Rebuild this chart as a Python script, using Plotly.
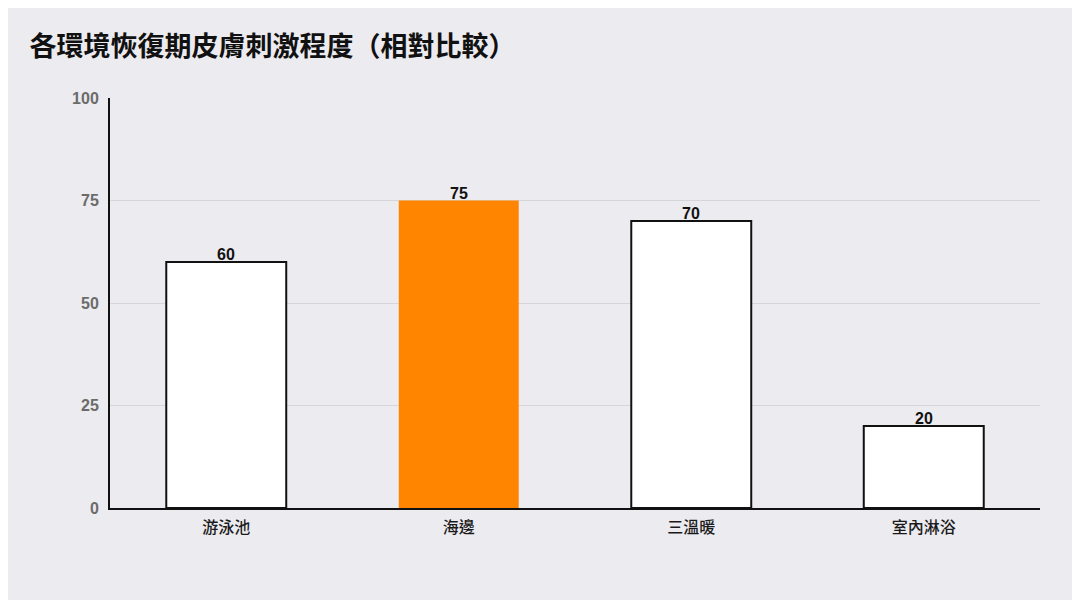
import plotly.graph_objects as go

categories = ['游泳池', '海邊', '三溫暖', '室內淋浴']
values = [60, 75, 70, 20]
highlight = '海邊'

fill_colors = ['#FF8500' if c == highlight else '#FFFFFF' for c in categories]
line_colors = ['#FF8500' if c == highlight else '#111111' for c in categories]
line_widths = [0 if c == highlight else 2 for c in categories]

fig = go.Figure()
fig.add_trace(go.Bar(
    x=categories,
    y=values,
    marker=dict(color=fill_colors, line=dict(color=line_colors, width=line_widths)),
    width=0.516,
    hoverinfo='x+y',
))

# value labels sitting right on top of each bar
for c, v in zip(categories, values):
    fig.add_annotation(
        x=c, y=v, text=f'<b>{v}</b>', showarrow=False,
        xanchor='center', yanchor='bottom', yshift=-3,
        font=dict(family='Liberation Sans, Arial', size=16, color='#111111'),
    )

# page has an 8px body margin, so margins are trimmed to land where the reference does
fig.update_layout(
    width=1080, height=600,
    paper_bgcolor='#ECEBF0',
    plot_bgcolor='#ECEBF0',
    margin=dict(l=102, r=48, t=90, b=100),
    showlegend=False,
    title=dict(
        text='<b>各環境恢復期皮膚刺激程度（相對比較）</b>',
        x=0.02, xanchor='left', y=0.935, yanchor='middle',
        font=dict(family='Noto Sans CJK TC', size=27, color='#111111'),
    ),
    font=dict(family='Noto Sans CJK TC, Noto Sans'),
)
fig.update_xaxes(
    showline=True, linecolor='#111111', linewidth=2,
    tickfont=dict(size=16, color='#1A1A1A', family='Noto Sans CJK TC', weight=500),
    ticks='', showgrid=False, ticklabelstandoff=4,
)
fig.update_yaxes(
    range=[0, 100], tickvals=[0, 25, 50, 75, 100],
    showline=True, linecolor='#111111', linewidth=2,
    gridcolor='#D6D5DA', gridwidth=1,
    tickfont=dict(size=16, color='#6B6B6B', family='Liberation Sans, Arial', weight='bold'),
    ticks='', zeroline=False, ticklabelstandoff=6,
)

fig.write_html('out.html')
